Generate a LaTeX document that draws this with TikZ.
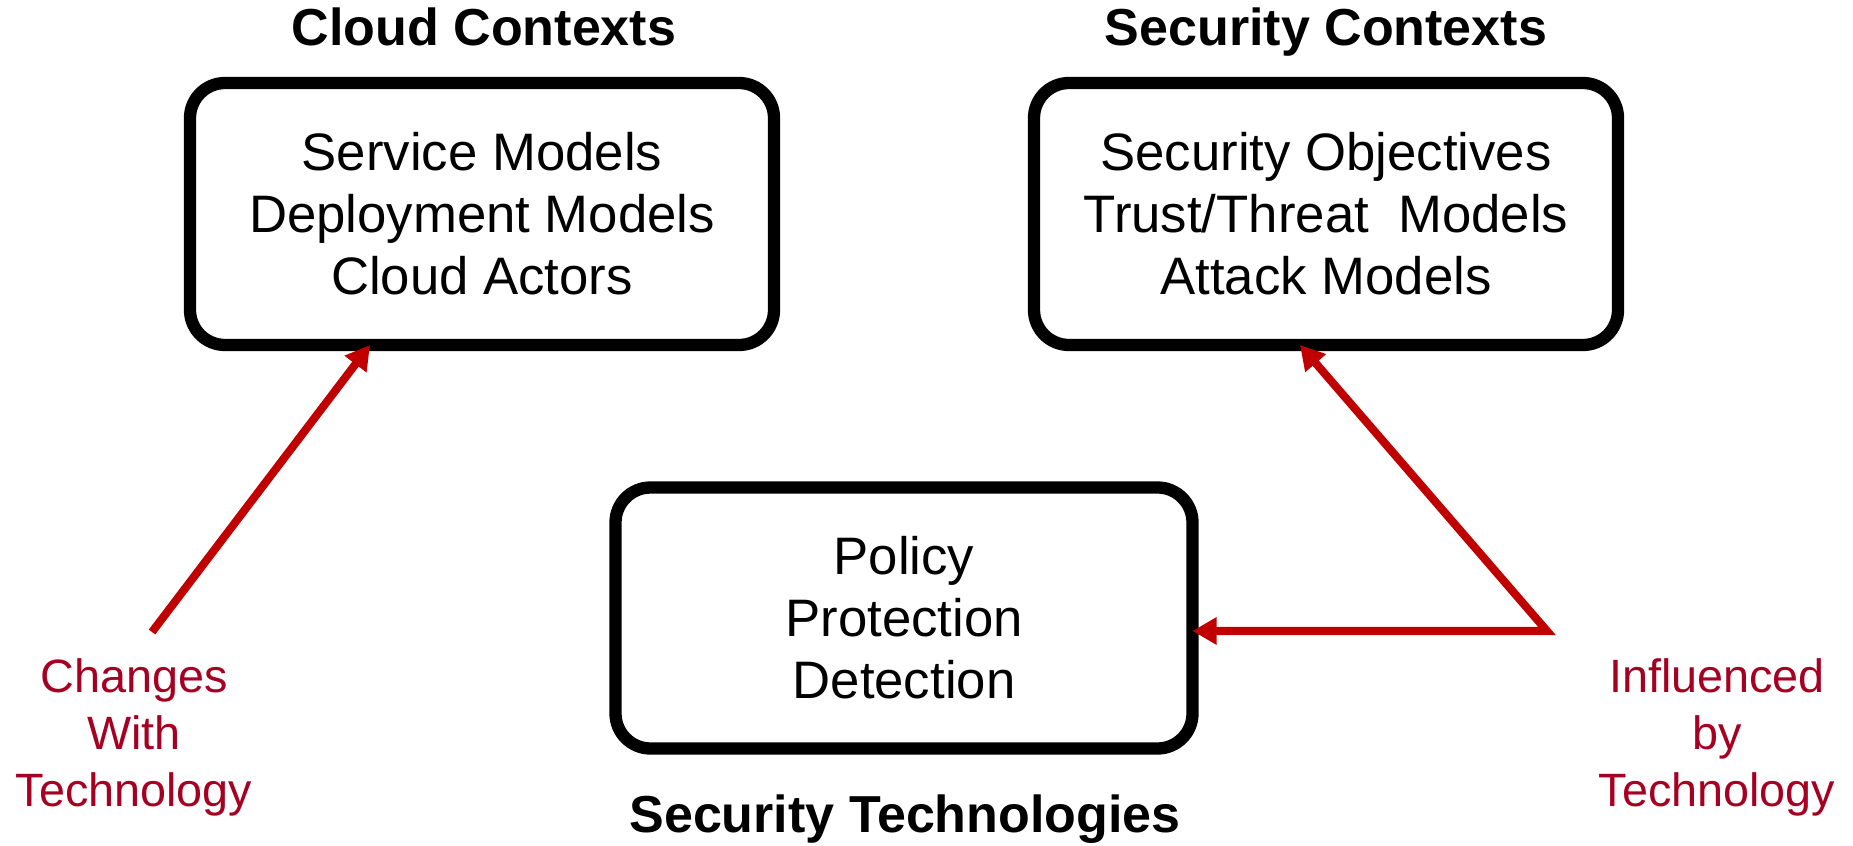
\documentclass[tikz,border=0pt]{standalone}
\usepackage{fontspec}
\setmainfont{Liberation Sans}
\usetikzlibrary{arrows.meta}
\definecolor{arrowred}{RGB}{192,0,0}
\definecolor{notered}{RGB}{165,0,33}
\begin{document}
\begin{tikzpicture}[
    >={Triangle[length=2.4mm, width=2.6mm]},
    ctxbox/.style={draw, line width=3.5pt, rounded corners=0.35cm, outer sep=0pt,
        align=center, font=\fontsize{15}{17.6}\selectfont},
    ctxtitle/.style={anchor=base, font=\bfseries\fontsize{14.8}{17}\selectfont},
    technote/.style={text=notered, align=center, font=\fontsize{13.3}{16.2}\selectfont},
    techline/.style={draw=arrowred, line width=2.3pt}]
            \useasboundingbox (0, 0) rectangle (18.53, 8.45) ;
            % titles
            \draw (4.84, 8.00) node[ctxtitle](cloudtitle){Cloud Contexts} ;
            \draw (13.26, 8.00) node[ctxtitle](sectitle){Security Contexts} ;
            \draw (9.05, 0.13) node[ctxtitle](techtitle){Security Technologies} ;
            % boxes
            \draw (4.82, 6.31) node[ctxbox, minimum width=5.84cm, minimum height=2.62cm](cloud)
                {Service Models\\Deployment Models\\Cloud Actors} ;
            \draw (13.26, 6.31) node[ctxbox, minimum width=5.84cm, minimum height=2.62cm](sec)
                {Security Objectives\\Trust/Threat~ Models\\Attack Models} ;
            \draw (9.04, 2.27) node[ctxbox, minimum width=5.77cm, minimum height=2.61cm](tech)
                {Policy\\Protection\\Detection} ;
            % notes
            \draw (1.34, 1.08) node[technote](changes){Changes\\With\\Technology} ;
            \draw (17.17, 1.08) node[technote](influenced){Influenced\\by\\Technology} ;
            \coordinate (chgfoot) at (1.52, 2.13) ;
            \coordinate (inflfoot) at (15.47, 2.14) ;
            % Arrows
            \draw[techline, ->] (chgfoot) -- ([xshift=-1.12cm]cloud.south) ;
            \draw[techline, <->, line join=miter] ([xshift=-0.26cm]sec.south) -- (inflfoot) -- (inflfoot -| tech.east) ;
        \end{tikzpicture}
\end{document}
